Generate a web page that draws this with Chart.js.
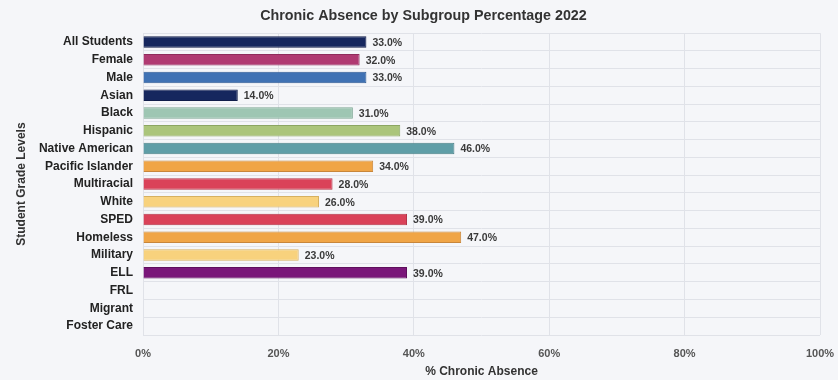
<!DOCTYPE html>
<html><head><meta charset="utf-8">
<script src="https://cdn.jsdelivr.net/npm/chart.js@4"></script>
<style>html,body{margin:0;padding:0;background:#f5f6f9;}#wrap{width:838px;height:380px;}</style>
</head><body><div id="wrap"><canvas id="c" width="838" height="380"></canvas></div>
<script>
const categories = ["All Students","Female","Male","Asian","Black","Hispanic","Native American","Pacific Islander","Multiracial","White","SPED","Homeless","Military","ELL","FRL","Migrant","Foster Care"];
const values = [33,32,33,14,31,38,46,34,28,26,39,47,23,39,null,null,null];
const barColors = ["#16275e","#b03a72","#4072b4","#16275e","#9ec6b3","#abc57b","#5f9ea7","#f0a546","#da4259","#f8d27d","#da4259","#f0a546","#f8d27d","#7a1679","#ccc","#ccc","#ccc"];
const borderColors = ["#101d4a","#8f2c5c","#2f5a94","#101d4a","#7fa895","#8ca662","#4a7f87","#c8863a","#b33448","#d6b060","#b33448","#c8863a","#d6b060","#5e0f5c","#aaa","#aaa","#aaa"];
const xTicks = [0,20,40,60,80,100];

const valueLabels = {
  id:'valueLabels',
  afterDatasetsDraw(chart){
    const ctx = chart.ctx;
    const meta = chart.getDatasetMeta(0);
    ctx.save();
    ctx.font = 'bold 10.5px "Liberation Sans", Arial, sans-serif';
    ctx.fillStyle = '#3a3a3a';
    ctx.textAlign = 'left';
    ctx.textBaseline = 'middle';
    meta.data.forEach((bar,i)=>{
      const v = values[i];
      if (v === null || v === undefined) return;
      ctx.fillText(v.toFixed(1)+'%', bar.x + 6, bar.y + 1);
    });
    ctx.restore();
  }
};

new Chart(document.getElementById('c'), {
  type:'bar',
  data:{labels:categories, datasets:[{data:values, backgroundColor:barColors, borderColor:borderColors, borderWidth:1, barPercentage:0.72, categoryPercentage:0.9}]},
  options:{
    indexAxis:'y', responsive:false, animation:false,
    layout:{padding:{left:14,right:5,top:0,bottom:0}},
    plugins:{
      legend:{display:false},
      tooltip:{enabled:false},
      title:{display:true,text:'Chronic Absence by Subgroup Percentage 2022',color:'#333',font:{family:'"Liberation Sans", Arial, sans-serif',size:14.3,weight:'bold'},padding:{top:7,bottom:9}}
    },
    scales:{
      x:{min:0,max:100,
        afterBuildTicks(axis){axis.ticks = xTicks.map(v=>({value:v}));},
        afterFit(axis){axis.height = 45; axis.paddingLeft = 0; axis.paddingRight = 18;},
        ticks:{callback:v=>v+'%',color:'#555',font:{family:'"Liberation Sans", Arial, sans-serif',size:11,weight:'bold'},padding:12},
        grid:{color:'#e0e2e8',drawTicks:false},
        border:{display:false},
        title:{display:true,text:'% Chronic Absence',color:'#333',font:{family:'"Liberation Sans", Arial, sans-serif',size:12,weight:'bold',lineHeight:1},padding:{top:1,bottom:2}}
      },
      y:{
        afterFit(axis){axis.width = 129;},
        ticks:{color:'#222',font:{family:'"Liberation Sans", Arial, sans-serif',size:12,weight:'bold'},autoSkip:false,padding:10},
        grid:{color:'#e0e2e8',drawTicks:false},
        border:{display:false},
        title:{display:true,text:'Student Grade Levels',color:'#333',font:{family:'"Liberation Sans", Arial, sans-serif',size:12,weight:'bold'},padding:{top:0,bottom:3}}
      }
    }
  },
  plugins:[valueLabels]
});
</script></body></html>
